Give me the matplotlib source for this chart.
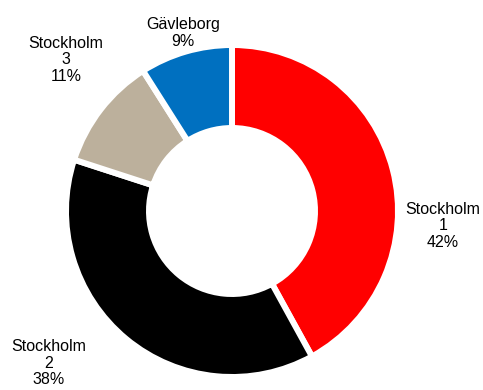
import matplotlib
matplotlib.use("Agg")
import matplotlib.pyplot as plt

categories = ["Stockholm\n1", "Stockholm\n2", "Stockholm\n3", "Gävleborg"]
values = [42, 38, 11, 9]
colors = ["#FF0000", "#000000", "#BCB09C", "#0070C0"]

plt.rcParams['font.family'] = ['Liberation Sans', 'DejaVu Sans']

W, H = 483, 390
cx, cy = 232, 211  # center in pixels from top-left
fig = plt.figure(figsize=(W / 100, H / 100), dpi=100)
ax = fig.add_axes([0, 0, 1, 1])
ax.set_xlim(-cx, W - cx)
ax.set_ylim(-(H - cy), cy)
ax.set_aspect('equal')
ax.axis('off')

wedges, _ = ax.pie(values, colors=colors, startangle=90, counterclock=False,
                   radius=166, center=(0, 0),
                   wedgeprops=dict(width=83, edgecolor='white', linewidth=4.3))
ax.set_xlim(-cx, W - cx)
ax.set_ylim(-(H - cy), cy)

label_pos = [(443, 226), (49, 363), (66, 60), (183, 33)]
for cat, v, (px, py) in zip(categories, values, label_pos):
    ax.text(px - cx, cy - py, f"{cat}\n{v}%", ha='center', va='center',
            fontsize=11.5, linespacing=1.13, color='#000000')

fig.savefig("out.png", dpi=100)
